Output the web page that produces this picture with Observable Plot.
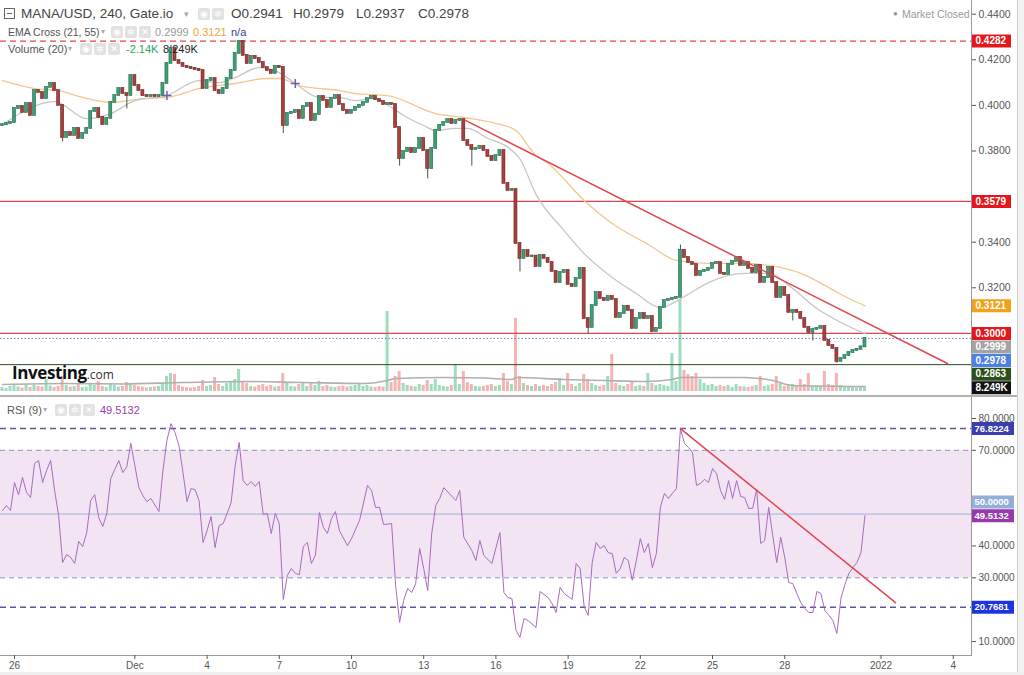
<!DOCTYPE html>
<html><head><meta charset="utf-8">
<script src="https://cdn.jsdelivr.net/npm/d3@7"></script>
<script src="https://cdn.jsdelivr.net/npm/@observablehq/plot@0.6"></script>
<style>
html,body{margin:0;padding:0;background:#fff;}
#wrap{position:relative;width:1024px;height:675px;overflow:hidden;background:#fff;font-family:"Liberation Sans",Arial,sans-serif;}
.layer{position:absolute;left:0;}
.t{position:absolute;white-space:nowrap;transform:translateY(-50%);line-height:1;}
.ic{position:absolute;width:12px;height:12px;background:#e2e2e2;border-radius:2px;transform:translateY(-50%);color:#fff;font-size:9px;line-height:12px;text-align:center;font-family:"DejaVu Sans",sans-serif;}
</style></head><body><div id="wrap"></div>
<script>
// ---------------- data ----------------
const firstOpen = 0.3912;
const closes = [
0.3915,0.3921,0.3925,0.3986,0.3995,0.3969,0.4008,0.3956,0.4065,0.4057,
0.4030,0.4079,0.4096,0.4065,0.4000,0.3859,0.3881,0.3868,0.3899,0.3855,
0.3877,0.3899,0.3973,0.3986,0.3947,0.3916,0.3943,0.4013,0.4043,0.4074,
0.4052,0.4043,0.4131,0.4087,0.4065,0.4043,0.4039,0.4043,0.4039,0.4043,
0.4096,0.4184,0.4250,0.4197,0.4184,0.4171,0.4166,0.4162,0.4157,0.4153,
0.4074,0.4109,0.4118,0.4065,0.4052,0.4074,0.4118,0.4153,0.4228,0.4280,
0.4219,0.4184,0.4215,0.4206,0.4188,0.4166,0.4153,0.4140,0.4171,0.4166,
0.3912,0.3965,0.3969,0.3978,0.3943,0.3995,0.4008,0.3934,0.3960,0.4039,
0.4022,0.3991,0.4030,0.4043,0.4004,0.3978,0.3965,0.3978,0.3991,0.4000,
0.4013,0.4030,0.4039,0.4026,0.4017,0.4004,0.4008,0.4004,0.3903,0.3767,
0.3798,0.3811,0.3793,0.3811,0.3855,0.3802,0.3723,0.3811,0.3890,0.3912,
0.3925,0.3938,0.3921,0.3934,0.3938,0.3846,0.3824,0.3807,0.3811,0.3820,
0.3802,0.3776,0.3758,0.3780,0.3802,0.3658,0.3627,0.3631,0.3394,0.3329,
0.3364,0.3337,0.3339,0.3293,0.3342,0.3329,0.3311,0.3272,0.3223,0.3267,
0.3276,0.3215,0.3206,0.3241,0.3285,0.3065,0.3026,0.3122,0.3179,0.3153,
0.3144,0.3162,0.3149,0.3070,0.3087,0.3118,0.3101,0.3022,0.3065,0.3087,
0.3065,0.3074,0.3008,0.3022,0.3114,0.3144,0.3149,0.3153,0.3158,0.3364,
0.3333,0.3311,0.3302,0.3254,0.3272,0.3276,0.3285,0.3307,0.3311,0.3263,
0.3258,0.3302,0.3315,0.3333,0.3298,0.3311,0.3285,0.3267,0.3298,0.3223,
0.3245,0.3289,0.3223,0.3158,0.3201,0.3166,0.3092,0.3101,0.3092,0.3065,
0.3026,0.3004,0.3017,0.3022,0.3030,0.2969,0.2947,0.2934,0.2877,0.2890,
0.2903,0.2916,0.2925,0.2930,0.2941,0.2978];
const volumes = [
8,6,10,12,9,7,14,8,12,10,
9,24,11,8,10,30,12,9,10,14,
8,9,16,12,20,10,8,15,12,9,
10,18,14,12,10,9,7,8,9,10,
16,30,36,34,12,9,8,7,8,10,
22,10,12,28,14,10,16,20,24,44,
20,16,10,9,12,14,10,12,9,10,
36,18,10,9,14,16,10,18,12,20,
10,12,9,8,10,11,9,10,12,14,
10,12,9,8,10,9,160,18,30,40,
16,12,10,9,14,12,22,14,24,12,
10,9,12,54,14,40,18,14,10,9,
10,12,14,10,12,36,20,14,146,30,
16,12,10,14,10,12,10,14,18,26,
12,36,14,10,16,34,24,16,12,10,
12,30,74,16,12,10,14,20,10,12,
10,36,16,12,14,12,10,76,20,184,
42,34,30,36,24,16,12,14,10,12,
10,12,8,14,10,9,8,10,12,30,
10,12,14,30,16,10,12,14,10,24,
14,36,10,12,10,40,14,12,36,12,
10,8,9,7,8,8.249];
const wickIdx  = [15,31,42,59,70,99,106,117,129,146,169,197,202,208,215];
const wickHigh = [null,null,0.4270,0.4282,null,null,null,null,null,null,0.3394,null,null,null,0.2979];
const wickLow  = [0.3833,0.3978,null,null,0.3870,0.3727,0.3671,0.3727,0.3263,0.2991,null,0.3048,0.2960,0.2863,0.2937];
const ema21 = [[0,0.3916],[13,0.4017],[21,0.3942],[27,0.3964],[33,0.4021],[41,0.4043],[49,0.4109],[54,0.4100],[58,0.4122],[64,0.4166],[69,0.4144],[73,0.4096],[79,0.4035],[84,0.4035],[88,0.4021],[92,0.4030],[97,0.3991],[100,0.3956],[105,0.3912],[108,0.3890],[113,0.3899],[116,0.3899],[121,0.3855],[126,0.3816],[129,0.3765],[133,0.3610],[140,0.3451],[145,0.3350],[152,0.3245],[158,0.3175],[164,0.3113],[170,0.3162],[176,0.3223],[185,0.3263],[191,0.3263],[197,0.3197],[203,0.3109],[209,0.3048],[215,0.2999]];
const ema55 = [[0,0.4109],[8,0.4074],[14,0.4065],[20,0.4035],[27,0.4013],[35,0.4030],[41,0.4035],[49,0.4074],[58,0.4096],[66,0.4118],[69,0.4118],[74,0.4087],[84,0.4065],[88,0.4052],[96,0.4043],[108,0.3964],[115,0.3947],[123,0.3921],[128,0.3890],[133,0.3780],[136,0.3745],[145,0.3583],[152,0.3482],[161,0.3390],[168,0.3320],[176,0.3307],[185,0.3307],[191,0.3298],[199,0.3263],[206,0.3201],[211,0.3153],[215,0.3121]];
const crossIdx = [41,73];
const crossPrice = [0.4043,0.4096];
const volMa = [[0,14],[15,16],[30,15],[45,18],[60,20],[75,18],[90,16],[96,22],[98,26],[110,28],[120,27],[127,24],[128,28],[140,24],[150,22],[160,20],[167,24],[169,28],[185,28],[192,22],[197,12],[215,10]];
const rsi = [[0,51.1],[1,52.7],[2,51.1],[3,59.9],[4,56.1],[5,61.5],[6,56.8],[7,55.2],[8,65.9],[9,66.8],[10,59.9],[11,63.7],[12,66.8],[13,57.4],[14,49.5],[15,34.8],[16,37.3],[17,36.4],[18,34.5],[19,41.4],[20,39.8],[21,44.2],[22,54.3],[23,56.1],[24,48.9],[25,46.1],[26,50.2],[27,61.2],[28,64.0],[29,66.8],[30,63.0],[31,64.9],[32,72.2],[33,65.2],[34,58.3],[35,55.8],[36,53.9],[37,54.9],[39,50.8],[40,63.7],[41,73.1],[42,78.4],[43,75.6],[44,71.5],[45,63.0],[46,53.9],[47,58.0],[48,57.7],[49,54.3],[50,41.1],[51,44.8],[52,49.2],[53,39.5],[54,46.4],[55,47.0],[56,50.2],[57,53.6],[58,65.2],[59,72.5],[60,60.5],[61,59.0],[62,60.2],[63,58.7],[64,60.2],[65,49.9],[66,50.2],[67,43.9],[68,50.2],[69,47.0],[70,23.2],[71,30.7],[72,32.9],[73,31.4],[74,31.0],[75,39.8],[76,41.1],[77,34.5],[78,37.0],[79,50.5],[80,45.8],[81,43.9],[82,48.6],[83,50.8],[84,44.8],[86,40.1],[87,42.3],[89,48.0],[91,59.0],[92,57.4],[93,52.1],[94,52.1],[95,46.7],[97,47.0],[98,27.6],[99,16.0],[100,22.9],[101,26.6],[102,25.4],[103,28.2],[104,39.2],[105,32.9],[106,26.0],[107,43.9],[108,52.7],[109,54.9],[110,58.3],[113,54.3],[114,57.4],[115,42.7],[117,38.6],[118,35.4],[119,41.7],[120,37.0],[122,34.5],[124,44.2],[125,25.4],[126,23.8],[127,23.5],[128,13.5],[129,11.3],[130,17.2],[131,16.6],[133,14.4],[134,25.7],[136,23.8],[137,21.9],[138,19.1],[139,27.0],[140,25.1],[142,23.2],[143,34.5],[144,32.9],[145,21.0],[146,18.2],[147,34.8],[148,41.1],[149,39.2],[150,40.1],[151,37.9],[152,37.6],[153,31.4],[154,32.9],[155,36.4],[156,35.4],[157,29.2],[158,35.4],[159,42.3],[160,37.9],[161,40.8],[162,33.2],[163,37.6],[164,52.1],[165,56.5],[166,54.9],[167,56.5],[168,58.0],[169,76.8],[170,72.2],[171,70.9],[172,69.3],[173,59.0],[174,59.6],[175,60.9],[176,59.9],[177,64.3],[178,62.7],[179,57.4],[180,54.6],[181,60.5],[182,54.9],[183,60.5],[184,55.5],[185,55.2],[186,51.8],[187,51.8],[188,57.7],[189,40.8],[190,41.7],[191,52.1],[192,43.3],[193,34.8],[194,42.7],[195,36.4],[196,28.5],[197,28.2],[198,25.1],[199,22.2],[200,20.4],[201,19.1],[202,19.1],[203,25.7],[204,25.1],[205,19.7],[206,18.2],[207,16.6],[208,12.5],[209,23.5],[210,27.9],[211,31.4],[212,33.2],[213,34.8],[214,37.9],[215,49.5132]];
const priceTrend = [[Date.UTC(2021,11,14,17,40),0.3934],[Date.UTC(2022,0,3,18,15),0.2868]];
const rsiTrend = [[Date.UTC(2021,11,23,16,0),76.8224],[Date.UTC(2022,0,1,14,30),22.2]];
const dashedLevel = [0.4282];
const redLevels = [0.3579,0.3000];
const supportLevel = [0.2863];
const lastPrice = [0.2978];
const priceTicks = [0.44,0.42,0.40,0.38,0.34,0.32];
const priceLabelVals = [0.4282,0.3579,0.3121,0.3000,0.2999,0.2978,0.2863];
const priceLabelText = ["0.4282","0.3579","0.3121","0.3000","0.2999","0.2978","0.2863"];
const lastVolume = 8.249, lastVolumeText = "8.249K";
const rsiBand = [30,70];
const rsiExtremes = [76.8224,20.7681];
const rsiMid = [50];
const rsiTicks = [80,70,40,30,10];
const rsiLabelVals = [76.8224,50,49.5132,20.7681];
const rsiLabelText = ["76.8224","50.0000","49.5132","20.7681"];
const xTicks = [[2021,10,26],[2021,11,1],[2021,11,4],[2021,11,7],[2021,11,10],[2021,11,13],[2021,11,16],[2021,11,19],[2021,11,22],[2021,11,25],[2021,11,28],[2022,0,1],[2022,0,4]];

// ---------------- build ----------------
const HOUR = 3600e3, T0 = Date.UTC(2021,10,25,12);
const tAt = i => new Date(T0 + i*4*HOUR);
const candles = closes.map((c,i) => {
  const o = i ? closes[i-1] : firstOpen;
  let h = Math.max(o,c), l = Math.min(o,c);
  const k = wickIdx.indexOf(i);
  if (k >= 0) { if (wickHigh[k] != null) h = wickHigh[k]; if (wickLow[k] != null) l = wickLow[k]; }
  return {t: tAt(i), o, c, h, l, v: volumes[i], up: c >= o};
});
const W = 1024, MR = 53, HM = 396;
const xDomain = [new Date(Date.UTC(2021,10,25,10,2)), new Date(Date.UTC(2022,0,4,18,13))];
const yDomain = [0.27233, 0.44601];
const volDomain = [0, 782];
const rsiDomain = [5.612, 86.591];
const font = "'Liberation Sans', Arial, sans-serif";
const wrap = document.getElementById("wrap");
const x1f = d => new Date(+d.t - 1.5*HOUR), x2f = d => new Date(+d.t + 1.5*HOUR);

// volume layer
const volPlot = Plot.plot({
  width: W, height: HM, marginLeft: 0, marginRight: MR, marginTop: 0, marginBottom: 5,
  x: {type: "utc", domain: xDomain, axis: null}, y: {domain: volDomain, axis: null},
  color: {type: "identity"},
  style: {background: "transparent"},
  marks: [
    Plot.rect(candles, {x1: x1f, x2: x2f, y1: () => 0, y2: "v", fill: d => d.up ? "#9edcbf" : "#f5b3b3"}),
    Plot.line(volMa, {x: d => tAt(d[0]), y: d => d[1], stroke: "#b0b0b0", strokeWidth: 1.6, curve: "monotone-x"})
  ]
});

// price labels with collision avoidance
const yS = Plot.scale({y: {domain: yDomain, range: [HM, 0]}});
const vS = Plot.scale({y: {domain: volDomain, range: [HM - 5, 0]}});
const mainBg = ["#e3171c","#e3171c","#f4a11a","#e3171c","#a3a3a3","#4d80e4","#2c5019"];
let mainLabels = priceLabelVals.map((v,i) => ({v, t: priceLabelText[i], bg: mainBg[i]}));
mainLabels.push({v: yS.invert(vS.apply(lastVolume)), t: lastVolumeText, bg: "#111"});
{ let prev = -1e9; mainLabels.forEach(d => { const py = Math.max(yS.apply(d.v), prev + 13.6); prev = py; d.ly = yS.invert(py); }); }

const mainPlot = Plot.plot({
  width: W, height: HM, marginLeft: 0, marginRight: MR, marginTop: 0, marginBottom: 0,
  x: {type: "utc", domain: xDomain, axis: null}, y: {domain: yDomain},
  color: {type: "identity"},
  style: {background: "transparent", color: "#555", fontFamily: font},
  marks: [
    Plot.ruleY(dashedLevel, {stroke: "#e0474c", strokeWidth: 1.2, strokeDasharray: "6,4"}),
    Plot.ruleY(redLevels, {stroke: "#e0474c", strokeWidth: 1.2}),
    Plot.ruleY(supportLevel, {stroke: "#2f4a22", strokeWidth: 1}),
    Plot.ruleY(lastPrice, {stroke: "#5d7fc4", strokeWidth: 1, strokeDasharray: "1.5,2"}),
    Plot.line(ema55, {x: d => tAt(d[0]), y: d => d[1], stroke: "#f7c48e", strokeWidth: 1.3, curve: "monotone-x"}),
    Plot.line(ema21, {x: d => tAt(d[0]), y: d => d[1], stroke: "#c6c6c6", strokeWidth: 1.3, curve: "monotone-x"}),
    Plot.ruleX(candles, {x: "t", y1: "l", y2: "h", stroke: "#4d4d4d", strokeWidth: 1, insetTop: -1.5, insetBottom: -1.5}),
    Plot.rect(candles, {x1: x1f, x2: x2f, y1: "o", y2: "c", fill: d => d.up ? "#3d9f75" : "#a8403e", stroke: d => d.up ? "#23694a" : "#6c2422", strokeWidth: 0.6, insetTop: -0.5, insetBottom: -0.5}),
    Plot.line(priceTrend, {x: d => new Date(d[0]), y: d => d[1], stroke: "#e0474c", strokeWidth: 1.5}),
    Plot.dot(crossIdx.map((i,k) => [i, crossPrice[k]]), {x: d => tAt(d[0]), y: d => d[1], symbol: "plus", r: 3, stroke: "#6b5fb5", strokeWidth: 1.5}),
    Plot.frame({anchor: "right", stroke: "#9a9a9a"}),
    Plot.axisY({anchor: "right", ticks: priceTicks, tickFormat: d => d.toFixed(4), tickSize: 4, tickPadding: 3, fontSize: 10.5, label: null}),
    Plot.ruleY(mainLabels, {y: "ly", stroke: "bg", strokeWidth: 13, insetLeft: 972, insetRight: -40}),
    Plot.text(mainLabels, {y: "ly", text: "t", frameAnchor: "right", dx: 4, textAnchor: "start", fill: "#fff", fontSize: 10, fontWeight: 700})
  ]
});

// RSI
const RH = 278, RMB = 20;
const rS = Plot.scale({y: {domain: rsiDomain, range: [RH - RMB, 0]}});
const rsiBg = ["#3b3fae","#93afd9","#9739ad","#1f35dc"];
let rsiLabels = rsiLabelVals.map((v,i) => ({v, t: rsiLabelText[i], bg: rsiBg[i]}));
{ let prev = 1e9; [...rsiLabels].reverse().forEach(d => { const py = Math.min(rS.apply(d.v), prev - 13.6); prev = py; d.ly = rS.invert(py); }); }
const tickDates = xTicks.map(a => new Date(Date.UTC(a[0], a[1], a[2])));
const fmtDay = d => d.getUTCDate() === 1 ? (d.getUTCMonth() === 0 ? "2022" : "Dec") : String(d.getUTCDate());

const rsiPlot = Plot.plot({
  width: W, height: RH, marginLeft: 0, marginRight: MR, marginTop: 0, marginBottom: RMB,
  x: {type: "utc", domain: xDomain}, y: {domain: rsiDomain},
  color: {type: "identity"},
  style: {background: "transparent", color: "#555", fontFamily: font},
  marks: [
    Plot.rect([rsiBand], {x1: () => xDomain[0], x2: () => xDomain[1], y1: d => d[0], y2: d => d[1], fill: "#f2e4f3"}),
    Plot.ruleY(rsiBand, {stroke: "#9c90b2", strokeWidth: 1, strokeDasharray: "5,4"}),
    Plot.ruleY(rsiExtremes, {stroke: "#5a579c", strokeWidth: 1.5, strokeDasharray: "6,4"}),
    Plot.ruleY(rsiMid, {stroke: "#9db3d8", strokeWidth: 1}),
    Plot.line(rsi, {x: d => tAt(d[0]), y: d => d[1], stroke: "#a86bc0", strokeWidth: 1}),
    Plot.line(rsiTrend, {x: d => new Date(d[0]), y: d => d[1], stroke: "#e0474c", strokeWidth: 1.5}),
    Plot.frame({anchor: "right", stroke: "#9a9a9a"}),
    Plot.frame({anchor: "bottom", stroke: "#9a9a9a"}),
    Plot.axisY({anchor: "right", ticks: rsiTicks, tickFormat: d => d.toFixed(4), tickSize: 4, tickPadding: 3, fontSize: 10, label: null}),
    Plot.ruleY(rsiLabels, {y: "ly", stroke: "bg", strokeWidth: 13, insetLeft: 972, insetRight: -43}),
    Plot.text(rsiLabels, {y: "ly", text: "t", frameAnchor: "right", dx: 3, textAnchor: "start", fill: "#fff", fontSize: 9.5, fontWeight: 700}),
    Plot.axisX({ticks: tickDates, tickFormat: fmtDay, tickSize: 4, tickPadding: 2, fontSize: 10, label: null})
  ]
});

function place(el, top) { el.classList.add("layer"); el.style.top = top + "px"; wrap.appendChild(el); }
place(volPlot, 0);
place(mainPlot, 0);
place(rsiPlot, 397);

// chrome
function box(css) { const d = document.createElement("div"); d.style.cssText = "position:absolute;" + css; wrap.appendChild(d); return d; }
box("left:0;top:395px;width:1017px;height:2px;background:#b3b3b3;");
box("left:1017px;top:0;width:1px;height:675px;background:#cfcfcf;");
box("left:1018px;top:0;width:6px;height:675px;background:#f3f3f3;");
box("left:0;top:672px;width:1024px;height:3px;background:#f0f0f0;");

function txt(x, y, s, css) { const d = document.createElement("div"); d.className = "t"; d.style.left = x + "px"; d.style.top = y + "px"; d.style.cssText += css || ""; d.textContent = s; wrap.appendChild(d); return d; }
function icons(x, y, n, glyphs) { for (let k = 0; k < n; k++) { const d = document.createElement("div"); d.className = "ic"; d.style.left = (x + k*14) + "px"; d.style.top = y + "px"; d.textContent = glyphs[k]; wrap.appendChild(d); } }

// header line 1
box("left:4px;top:8px;width:9px;height:9px;border:1px solid #666;");
box("left:7px;top:13px;width:5px;height:1px;background:#666;");
txt(21, 14, "MANA/USD, 240, Gate.io", "font-size:13.5px;color:#444;");
txt(184, 14, "▾", "font-size:9px;color:#aaa;");
icons(198, 14, 2, ["◉","✲"]);
txt(231, 14, "O0.2941", "font-size:13.5px;color:#444;");
txt(293, 14, "H0.2979", "font-size:13.5px;color:#444;");
txt(356, 14, "L0.2937", "font-size:13.5px;color:#444;");
txt(418, 14, "C0.2978", "font-size:13.5px;color:#444;");
// line 2
txt(8, 32, "EMA Cross (21, 55)", "font-size:10.5px;color:#555;");
txt(101, 32, "▾", "font-size:8px;color:#aaa;");
icons(111, 32, 3, ["◉","✲","✕"]);
txt(155, 32, "0.2999", "font-size:11px;color:#999;");
txt(193, 32, "0.3121", "font-size:11px;color:#f2a43a;");
txt(231, 32, "n/a", "font-size:11px;color:#3b3b8c;");
// line 3
txt(8, 49, "Volume (20)", "font-size:11px;color:#555;");
txt(68, 49, "▾", "font-size:8px;color:#aaa;");
icons(80, 49, 3, ["◉","✲","✕"]);
txt(126, 49, "-2.14K", "font-size:11px;color:#2aa866;");
txt(163, 49, "8.249K", "font-size:11px;color:#222;");
// market closed
txt(893, 14, "●", "font-size:8px;color:#999;");
txt(902, 14, "Market Closed", "font-size:10.5px;color:#999;");
// RSI legend
txt(7, 410, "RSI (9)", "font-size:11px;color:#555;");
txt(43, 410, "▾", "font-size:8px;color:#aaa;");
icons(55, 410, 3, ["◉","✲","✕"]);
txt(100, 410, "49.5132", "font-size:11px;color:#9a3cae;");
// logo
const logo = txt(12, 372, "", "font-family:'Open Sans',sans-serif;color:#111;");
logo.innerHTML = '<span style="font-size:17px;font-weight:700;letter-spacing:-0.4px;">Investing</span><span style="font-size:12px;color:#333;">.com</span>';
</script></body></html>
